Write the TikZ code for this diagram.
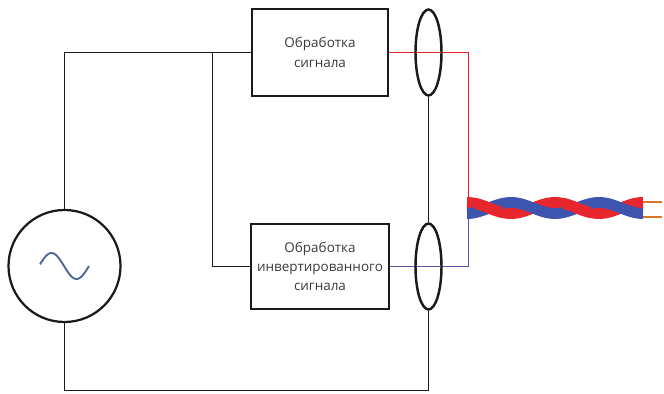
\documentclass[tikz,border=0pt]{standalone}
\usepackage{fontspec}
\setmainfont{Open Sans}
\usetikzlibrary{shapes.geometric}
\definecolor{wire}{HTML}{1A1A1A}
\definecolor{txt}{HTML}{3A3A3A}
\definecolor{redwire}{HTML}{E82028}
\definecolor{bluewire}{HTML}{5A58A6}
\definecolor{redstrand}{HTML}{E8262D}
\definecolor{bluestrand}{HTML}{3E55B0}
\definecolor{copper}{HTML}{D9782A}
\definecolor{sine}{HTML}{4A6796}
\begin{document}
\begin{tikzpicture}[x=0.03cm,y=-0.03cm,
  blockbox/.style={draw=wire,line width=1.9pt,fill=white,text=txt,align=center,
    font=\fontsize{11.5}{16.5}\selectfont,inner sep=0pt},
  probe/.style={ellipse,draw=wire,line width=2.1pt,minimum width=0.78cm,minimum height=2.58cm,inner sep=0pt},
  source/.style={circle,draw=wire,line width=1.9pt,minimum size=3.36cm,inner sep=0pt},
  conn/.style={draw=wire,line width=1.3pt},
  redline/.style={draw=redwire,line width=1.4pt},
  blueline/.style={draw=bluewire,line width=1.4pt},
  strand/.style={line width=9.3pt,line cap=butt},
  lead/.style={draw=copper,line width=2.4pt}]
\useasboundingbox (0,0) rectangle (664,394);

% coordinates for corners of the wiring
\coordinate (split) at (212.5,52.5);
\coordinate (ground) at (428.5,390.5);
\coordinate (redend) at (468.5,203);
\coordinate (blueend) at (468.5,213);

% blocks
\node[blockbox,minimum width=4.08cm,minimum height=2.61cm] (sig) at (320,52.5) {Обработка\\сигнала};
\node[blockbox,minimum width=4.14cm,minimum height=2.55cm] (inv) at (320,266.5) {Обработка\\инвертированного\\сигнала};

% AC source
\node[source] (gen) at (64.5,266) {};
\draw[sine,line width=1.6pt,line join=round] plot[domain=40:89,samples=60] (\x,{266+13*sin(2*pi*(\x-64)/50 r)});

% supply wiring
\draw[conn] (gen.north) |- (sig.west);
\draw[conn] (split) |- (inv.west);
\draw[conn] (gen.south) |- (ground);

% signal outputs
\draw[redline] (sig.east) -| (redend);
\draw[blueline] (inv.east) -| (blueend);

% current probes on the return path
\node[probe] (p1) at (428.5,52.5) {};
\node[probe] (p2) at (428.5,266.5) {};
\draw[conn] (p1.south) -- (p2.north);
\draw[conn] (ground) -- (p2.south);

% twisted pair
\draw[lead] (640,202) -- (662,202);
\draw[lead] (640,217) -- (662,217);
\draw[strand,draw=redstrand] plot[domain=467:643,samples=120] (\x,{208-5.5*cos(2*pi*(\x-467)/88 r)});
\draw[strand,draw=bluestrand] plot[domain=467:643,samples=120] (\x,{208+5.5*cos(2*pi*(\x-467)/88 r)});
\draw[strand,draw=redstrand] plot[domain=476:502,samples=30] (\x,{208-5.5*cos(2*pi*(\x-467)/88 r)});
\draw[strand,draw=redstrand] plot[domain=564:590,samples=30] (\x,{208-5.5*cos(2*pi*(\x-467)/88 r)});
\end{tikzpicture}
\end{document}
